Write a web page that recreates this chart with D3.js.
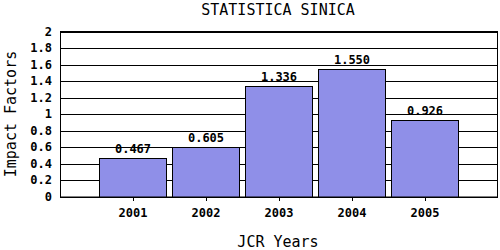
<!DOCTYPE html>
<html>
<head>
<meta charset="utf-8">
<script src="https://cdn.jsdelivr.net/npm/d3@7"></script>
<style>
  body { margin: 0; background: #fff; }
  text { font-family: "DejaVu Sans Mono", "Liberation Mono", monospace; }
</style>
</head>
<body>
<div id="chart"></div>
<script>
// data
const years = ["2001", "2002", "2003", "2004", "2005"];
const impactFactors = [0.467, 0.605, 1.336, 1.550, 0.926];
const yTicks = [0, 0.2, 0.4, 0.6, 0.8, 1, 1.2, 1.4, 1.6, 1.8, 2];

const W = 500, H = 250;
const plot = { left: 60, right: 498, top: 31.5, bottom: 197 };

const svg = d3.select("#chart")
  .append("svg")
  .attr("width", W)
  .attr("height", H);

const x = d3.scalePoint()
  .domain(years)
  .range([plot.left, plot.right])
  .padding(1);

const y = d3.scaleLinear()
  .domain([0, 2])
  .range([plot.bottom, plot.top]);

const barW = x.step() * 0.92;

// frame + gridlines
svg.append("rect")
  .attr("x", plot.left + 0.5)
  .attr("y", plot.top)
  .attr("width", plot.right - plot.left - 1)
  .attr("height", plot.bottom - plot.top)
  .attr("fill", "#fff")
  .attr("stroke", "#000");

svg.append("g")
  .selectAll("line")
  .data(yTicks)
  .join("line")
  .attr("x1", plot.left)
  .attr("x2", plot.right)
  .attr("y1", d => Math.round(y(d)) + 0.5)
  .attr("y2", d => Math.round(y(d)) + 0.5)
  .attr("stroke", "#000");

// y labels
svg.append("g")
  .selectAll("text")
  .data(yTicks)
  .join("text")
  .attr("x", 52)
  .attr("y", d => y(d) + 4)
  .attr("text-anchor", "end")
  .attr("font-size", "12px")
  .attr("font-weight", "bold")
  .text(d => d3.format(".1f")(d).replace(/\.0$/, ""));

// bars
svg.append("g")
  .selectAll("rect")
  .data(impactFactors)
  .join("rect")
  .attr("x", (d, i) => Math.round(x(years[i]) - barW / 2) + 0.5)
  .attr("y", d => Math.round(y(d)) + 0.5)
  .attr("width", Math.round(barW))
  .attr("height", d => plot.bottom - Math.round(y(d)) - 0.5)
  .attr("fill", "#8f8fe8")
  .attr("stroke", "#000");

// value labels
svg.append("g")
  .selectAll("text")
  .data(impactFactors)
  .join("text")
  .attr("x", (d, i) => x(years[i]))
  .attr("y", d => y(d) - 5)
  .attr("text-anchor", "middle")
  .attr("font-size", "12px")
  .attr("font-weight", "bold")
  .text(d => d3.format(".3f")(d));

// x ticks
svg.append("g")
  .selectAll("line")
  .data(years)
  .join("line")
  .attr("x1", d => Math.round(x(d)) + 0.5)
  .attr("x2", d => Math.round(x(d)) + 0.5)
  .attr("y1", plot.bottom)
  .attr("y2", plot.bottom + 4)
  .attr("stroke", "#000");

svg.append("g")
  .selectAll("text")
  .data(years)
  .join("text")
  .attr("x", d => x(d))
  .attr("y", 217)
  .attr("text-anchor", "middle")
  .attr("font-size", "12px")
  .attr("font-weight", "bold")
  .text(d => d);

// titles
svg.append("text")
  .attr("x", 278)
  .attr("y", 15)
  .attr("text-anchor", "middle")
  .attr("font-size", "15px")
  .text("STATISTICA SINICA");

svg.append("text")
  .attr("x", 278)
  .attr("y", 247)
  .attr("text-anchor", "middle")
  .attr("font-size", "15px")
  .text("JCR Years");

svg.append("text")
  .attr("transform", "translate(16,114) rotate(-90)")
  .attr("text-anchor", "middle")
  .attr("font-size", "15px")
  .text("Impact Factors");
</script>
</body>
</html>
